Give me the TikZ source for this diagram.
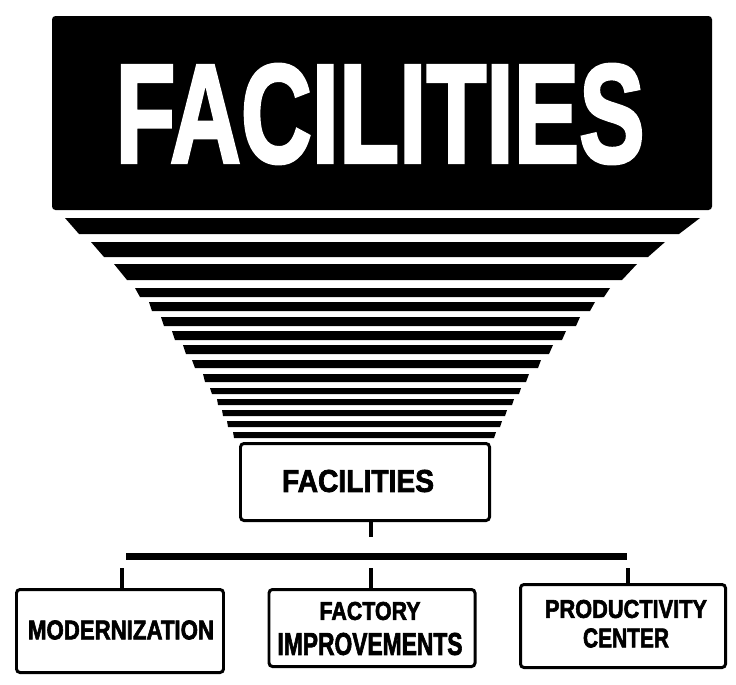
\documentclass[tikz,border=0pt]{standalone}
\usepackage{fontspec}
\setmainfont{Liberation Sans}[BoldFeatures={FakeBold=2.5}]
\newlength{\pxunit}
\setlength{\pxunit}{0.02cm}
\newcommand{\fitword}[3]{\resizebox{#1\pxunit}{#2\pxunit}{\bfseries #3}}

\begin{document}
\begin{tikzpicture}[
  x=0.02cm, y=-0.02cm,
  boxnode/.style={draw, line width=1.7pt, rounded corners=2pt, inner sep=0pt},
  wordnode/.style={inner sep=0pt},
  link/.style={line width=2.3pt},
  busbar/.style={line width=4pt}
]
  \useasboundingbox (0,0) rectangle (736,684);

  % title block
  \fill[rounded corners=2pt] (52,16) rectangle (712,210);
  \node[wordnode, text=white] (title) at (380,114) {\fitword{529}{98}{FACILITIES}};

  % funnel stripes: top y / bottom y / left ends / right ends
  \foreach \yt/\yb/\lt/\lb/\rt/\rb in {
      218/234/65/79/700/679, 242/257/91/104/665/648, 264/280/114/127/637/622,
      288/297/135/140/610/604, 302/311/149/152/595/590, 317/326/161/164/580/576,
      331/340/172/175/566/562, 345/354/183/186/553/549, 360/368/192/195/541/538,
      374/382/203/205/529/526, 388/394/210/212/521/519, 399/405/217/218/514/512,
      410/416/222/223/507/505, 421/427/227/228/502/500, 432/438/233/234/496/494}
    \fill (\lt,\yt) -- (\rt,\yt) -- (\rb,\yb) -- (\lb,\yb) -- cycle;

  % hub
  \node[boxnode, minimum width=249\pxunit, minimum height=77\pxunit] (hub) at (365,482) {};
  \node[wordnode] (hubword) at (358,481) {\fitword{152}{22}{FACILITIES}};

  % branches
  \node[boxnode, minimum width=207\pxunit, minimum height=83\pxunit] (modern) at (120,631) {};
  \node[boxnode, minimum width=206\pxunit, minimum height=77\pxunit] (factory) at (372,628) {};
  \node[boxnode, minimum width=205\pxunit, minimum height=83\pxunit] (product) at (623,626) {};

  \node[wordnode] (modernword) at (121,630) {\fitword{186}{19}{MODERNIZATION}};
  \node[wordnode] (factoryA) at (370,611) {\fitword{101}{18}{FACTORY}};
  \node[wordnode] (factoryB) at (370,644) {\fitword{185}{22}{IMPROVEMENTS}};
  \node[wordnode] (productA) at (626,609) {\fitword{162}{18}{PRODUCTIVITY}};
  \node[wordnode] (productB) at (626,638) {\fitword{86}{19}{CENTER}};

  % connectors
  \coordinate (stem) at (371,537);
  \coordinate (barL) at (126,556);
  \coordinate (barR) at (627,556);
  \coordinate (dropL) at (122,568);
  \coordinate (dropM) at (371,568);
  \coordinate (dropR) at (628,568);

  \draw[link] (hub.south -| stem) -- (stem);
  \draw[busbar] (barL) -- (barR);
  \draw[link] (modern.north -| dropL) -- (dropL);
  \draw[link] (factory.north -| dropM) -- (dropM);
  \draw[link] (product.north -| dropR) -- (dropR);
\end{tikzpicture}
\end{document}
